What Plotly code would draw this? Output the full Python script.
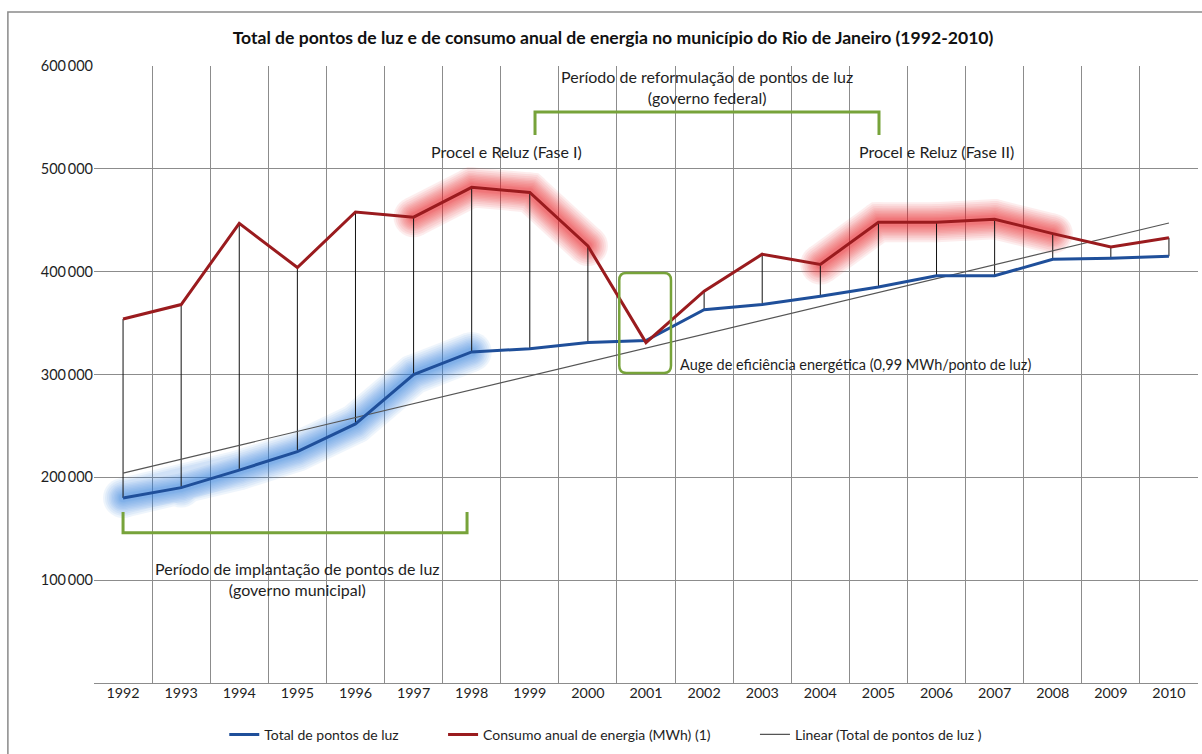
import numpy as np
import plotly.graph_objects as go

years = list(range(1992, 2011))
pontos_luz = [180000, 190000, 207000, 225000, 252000, 300000, 322000, 325000, 331000, 333000,
              363000, 368000, 376000, 385000, 396000, 396000, 412000, 413000, 415000]
consumo = [354000, 368000, 447000, 404000, 458000, 453000, 482000, 477000, 425000, 331000,
           381000, 417000, 407000, 448000, 448000, 451000, 437000, 424000, 433000]
y_tickvals = [100000, 200000, 300000, 400000, 500000, 600000]
y_ticktext = ["100\u2009000", "200\u2009000", "300\u2009000", "400\u2009000", "500\u2009000", "600\u2009000"]

FONT = "Lato"
BLUE = "#1f4f9a"
RED = "#9a1b1e"
GREEN = "#77a33a"
TXT = "#1e1e1e"
PAD = "\u00a0" * 11

# trendline (Excel linear trend of Total de pontos de luz)
coef = np.polyfit(years, pontos_luz, 1)
trend = [float(np.polyval(coef, y)) for y in years]

fig = go.Figure()

# soft glow highlights (rounded joins / caps via markers in same trace)
def glow(xs, ys, color):
    for w in [40, 36, 32, 28, 25, 22, 19, 16, 13, 10, 8]:
        fig.add_trace(go.Scatter(x=xs, y=ys, mode="lines+markers", line=dict(color=color, width=w),
                                 marker=dict(size=w, color=color, line=dict(width=0)),
                                 opacity=0.075, showlegend=False, hoverinfo="skip"))

glow(years[0:7], pontos_luz[0:7], "#2f7fe0")
glow(years[5:9], consumo[5:9], "#ec1c24")
glow(years[12:17], consumo[12:17], "#ec1c24")

# high-low drop lines
dx, dy = [], []
for yr, a, b in zip(years, pontos_luz, consumo):
    dx += [yr, yr, None]
    dy += [a, b, None]
fig.add_trace(go.Scatter(x=dx, y=dy, mode="lines", line=dict(color="#111111", width=1),
                         showlegend=False, hoverinfo="skip"))

fig.add_trace(go.Scatter(x=years, y=trend, mode="lines", name="Linear (Total de pontos de luz )",
                         line=dict(color="#555555", width=1.2), legendrank=3))
fig.add_trace(go.Scatter(x=years, y=pontos_luz, mode="lines", name="Total de pontos de luz" + PAD,
                         line=dict(color=BLUE, width=3), legendrank=1))
fig.add_trace(go.Scatter(x=years, y=consumo, mode="lines", name="Consumo anual de energia (MWh) (1)" + PAD,
                         line=dict(color=RED, width=3), legendrank=2))

shapes = []
# outer frame
shapes.append(dict(type="rect", xref="paper", yref="paper", x0=-0.078, x1=1.02, y0=-0.13, y1=1.0875,
                   line=dict(color="#8a8a8a", width=1.5), fillcolor="rgba(0,0,0,0)", layer="below"))
# top bracket
shapes.append(dict(type="path", xref="x", yref="y",
                   path="M 1999.09 533000 L 1999.09 555300 L 2005.01 555300 L 2005.01 533000",
                   line=dict(color=GREEN, width=3)))
# bottom bracket
shapes.append(dict(type="path", xref="x", yref="y",
                   path="M 1992.0 166300 L 1992.0 146000 L 1997.92 146000 L 1997.92 166300",
                   line=dict(color=GREEN, width=3)))
# rounded box around 2001
x0, x1, y0, y1 = 2000.54, 2001.43, 301400, 398700
rx, ry = 0.12, 7000
shapes.append(dict(type="path", xref="x", yref="y",
                   path=(f"M {x0+rx} {y1} L {x1-rx} {y1} Q {x1} {y1} {x1} {y1-ry} "
                         f"L {x1} {y0+ry} Q {x1} {y0} {x1-rx} {y0} L {x0+rx} {y0} "
                         f"Q {x0} {y0} {x0} {y0+ry} L {x0} {y1-ry} Q {x0} {y1} {x0+rx} {y1} Z"),
                   line=dict(color=GREEN, width=2.5)))

annos = [
    dict(x=2002.05, y=580000, text="Período de reformulação de pontos de luz<br>(governo federal)",
         font=dict(size=16, color=TXT), xanchor="center", yanchor="middle"),
    dict(x=1998.6, y=516400, text="Procel e Reluz (Fase I)", font=dict(size=16, color=TXT),
         xanchor="center", yanchor="middle"),
    dict(x=2006.0, y=516400, text="Procel e Reluz (Fase II)", font=dict(size=16, color=TXT),
         xanchor="center", yanchor="middle"),
    dict(x=1995.0, y=101000, text="Período de implantação de pontos de luz<br>(governo municipal)",
         font=dict(size=16, color=TXT), xanchor="center", yanchor="middle"),
    dict(x=2001.55, y=310200, text="Auge de eficiência energética (0,99 MWh/ponto de luz)",
         font=dict(size=14.5, color=TXT), xanchor="left", yanchor="middle"),
]
for a in annos:
    a.update(xref="x", yref="y", showarrow=False)

fig.update_layout(
    width=1202, height=754,
    margin=dict(l=94, r=4, t=66, b=71, autoexpand=False),
    paper_bgcolor="white", plot_bgcolor="white",
    font=dict(family=FONT, color=TXT),
    title=dict(text="<b>Total de pontos de luz e de consumo anual de energia no município do Rio de Janeiro (1992-2010)</b>",
               x=0.51, xanchor="center", y=1 - 38 / 754, yanchor="middle",
               font=dict(size=17.6, family=FONT, color="#111")),
    xaxis=dict(range=[1991.5, 2010.5], tickvals=years, ticktext=[str(y) for y in years],
               showgrid=False, zeroline=False, showline=False, ticks="", automargin=False,
               tickfont=dict(size=14.3, color=TXT),
               minor=dict(tick0=1991.5, dtick=1, showgrid=True, gridcolor="#8c8c8c", gridwidth=1)),
    yaxis=dict(range=[0, 600000], tickvals=y_tickvals, ticktext=y_ticktext, showgrid=True,
               gridcolor="#8c8c8c", gridwidth=1, zeroline=True, zerolinecolor="#8c8c8c",
               zerolinewidth=1, showline=False, ticks="", ticklen=0, automargin=False,
               tickfont=dict(size=14.5, color=TXT)),
    legend=dict(orientation="h", x=0.118, xanchor="left", y=-0.058, yanchor="top",
                font=dict(size=14, color=TXT), traceorder="normal", itemwidth=30),
    shapes=shapes, annotations=annos, showlegend=True,
)

fig.write_html("out.html", config={"displayModeBar": False},
               post_script="document.body.style.margin='0';document.body.style.overflow='hidden';")
